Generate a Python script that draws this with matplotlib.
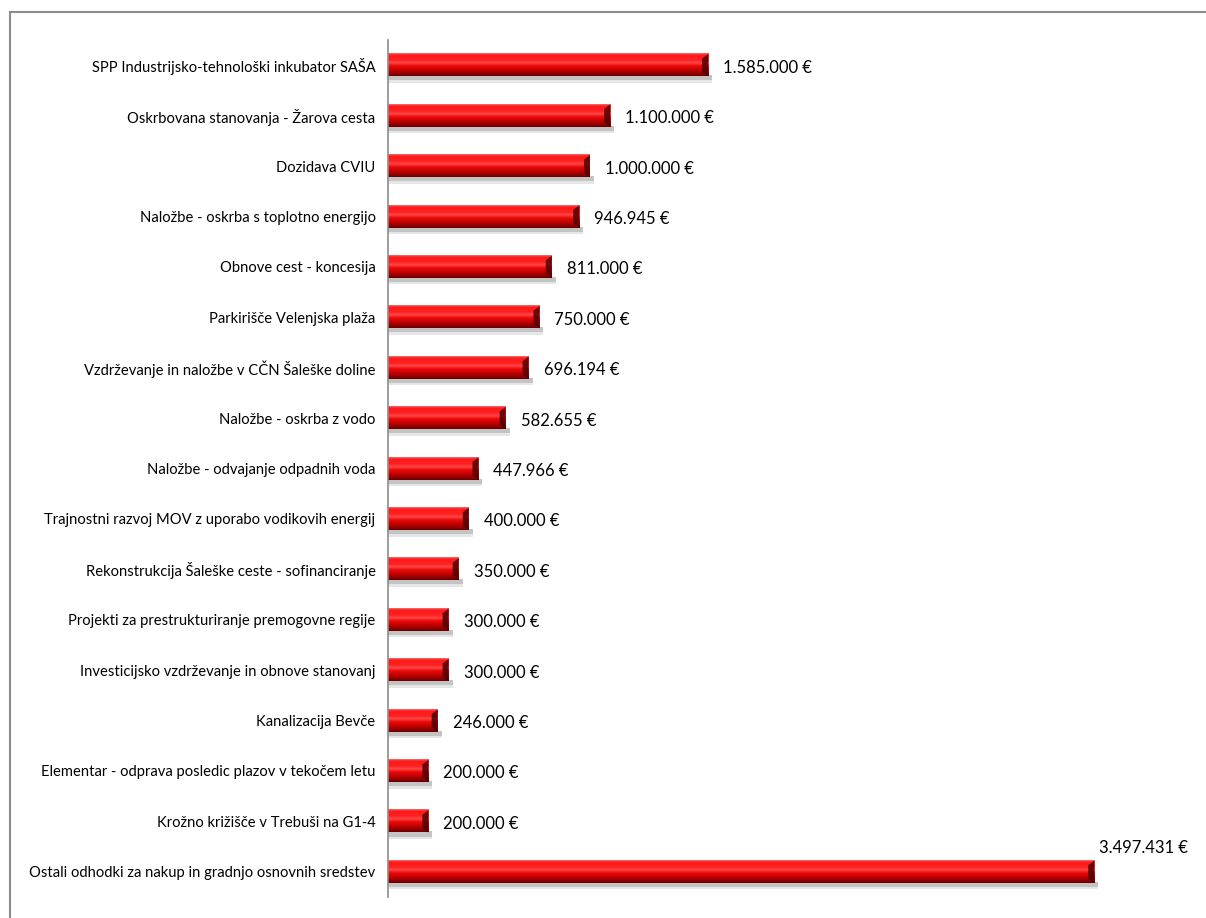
import numpy as np
import matplotlib
matplotlib.use("Agg")
from matplotlib import pyplot as plt
from matplotlib.colors import LinearSegmentedColormap
from matplotlib.patches import Polygon, Rectangle
from matplotlib.lines import Line2D

# podatki (od zgoraj navzdol)
projekti = [
    "SPP Industrijsko-tehnološki inkubator SAŠA",
    "Oskrbovana stanovanja - Žarova cesta",
    "Dozidava CVIU",
    "Naložbe - oskrba s toplotno energijo",
    "Obnove cest - koncesija",
    "Parkirišče Velenjska plaža",
    "Vzdrževanje in naložbe v CČN Šaleške doline",
    "Naložbe - oskrba z vodo",
    "Naložbe - odvajanje odpadnih voda",
    "Trajnostni razvoj MOV z uporabo vodikovih energij",
    "Rekonstrukcija Šaleške ceste - sofinanciranje",
    "Projekti za prestrukturiranje premogovne regije",
    "Investicijsko vzdrževanje in obnove stanovanj",
    "Kanalizacija Bevče",
    "Elementar - odprava posledic plazov v tekočem letu",
    "Krožno križišče v Trebuši na G1-4",
    "Ostali odhodki za nakup in gradnjo osnovnih sredstev",
]
zneski = [1585000, 1100000, 1000000, 946945, 811000, 750000, 696194, 582655,
          447966, 400000, 350000, 300000, 300000, 246000, 200000, 200000, 3497431]

plt.rcParams['font.family'] = ['Lato', 'DejaVu Sans']

fig = plt.figure(figsize=(12.06, 9.18), dpi=100)
ax = fig.add_axes([388/1206, 1 - 897/918, (1100-388)/1206, (897-40)/918])

n = len(zneski)
y = np.arange(n)
h = 0.44

# gradient za "3D" stolpce
grad = LinearSegmentedColormap.from_list("rdeca", [
    (0.00, "#f07070"), (0.08, "#ff1a1a"), (0.30, "#ff2020"), (0.42, "#ff4848"),
    (0.55, "#ee0c0c"), (0.75, "#c00000"), (0.92, "#880000"), (1.00, "#660000")])
img = grad(np.linspace(0, 1, 64))[:, None, :]

px = 3526000 / 712  # podatkovne enote na piksel

for i, v in enumerate(zneski):
    # senca
    ax.add_patch(Rectangle((0, y[i] + h/2 - 0.02), v + 4*px, 0.10,
                           color="#c4c4c4", lw=0, zorder=1))
    ax.add_patch(Rectangle((0, y[i] + h/2 + 0.08), v + 4*px, 0.05,
                           color="#e6e6e6", lw=0, zorder=1))
    ax.imshow(img, extent=(0, v, y[i] + h/2, y[i] - h/2), aspect="auto",
              origin="upper", interpolation="bilinear", zorder=2)
    # temen konec stolpca
    w = 6*px
    ax.add_patch(Polygon([(v - w, y[i] - h/2 + 0.09), (v, y[i] - h/2),
                          (v, y[i] + h/2), (v - w, y[i] + h/2 - 0.09)],
                         closed=True, color="#500000", alpha=0.85, lw=0, zorder=3))
    besedilo = f"{v:,}".replace(",", ".") + " €"
    if i == n - 1:
        ax.text(v + 5*px, y[i] - 0.48, besedilo, ha="left", va="center", fontsize=12)
    else:
        ax.text(v + 15*px, y[i] + 0.05, besedilo, ha="left", va="center", fontsize=12)

ax.set_xlim(0, 3526000)
ax.set_ylim(n - 0.5, -0.5)
ax.set_yticks(y)
ax.set_yticklabels(projekti, fontsize=10.6)
ax.tick_params(axis="y", length=0, pad=9)
ax.set_xticks([])
for s in ["top", "right", "bottom"]:
    ax.spines[s].set_visible(False)
ax.spines["left"].set_color("#8c8c8c")
ax.spines["left"].set_linewidth(1.2)

# okvir
fig.add_artist(Line2D([10/1206, 1.0], [1 - 12/918, 1 - 12/918],
                      transform=fig.transFigure, color="#8c8c8c", lw=1.5))
fig.add_artist(Line2D([10/1206, 10/1206], [0.0, 1 - 12/918],
                      transform=fig.transFigure, color="#8c8c8c", lw=1.5))

fig.savefig("out.png", dpi=100)
